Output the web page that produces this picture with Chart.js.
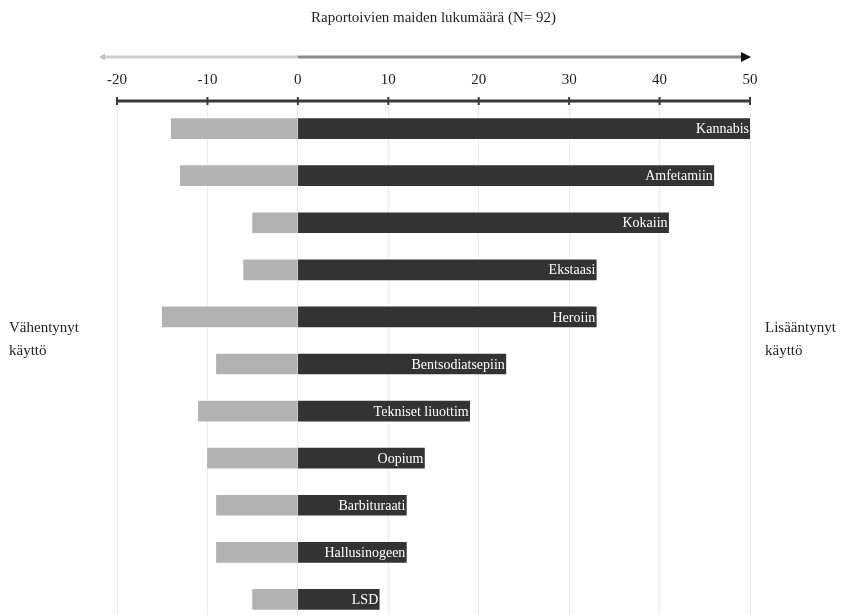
<!DOCTYPE html>
<html lang="fi">
<head>
<meta charset="utf-8">
<title>Raportoivien maiden lukumäärä</title>
<script src="https://cdn.jsdelivr.net/npm/chart.js@4/dist/chart.umd.min.js"></script>
<style>
  html, body { margin: 0; padding: 0; background: #ffffff; overflow: hidden; }
  #wrap { width: 859px; height: 640px; }
</style>
</head>
<body>
<div id="wrap"><canvas id="chart" width="859" height="640"></canvas></div>
<script>
// Huumeet (tekstit sellaisina kuin ne pylväissä näkyvät)
const categories = ['Kannabis', 'Amfetamiin', 'Kokaiin', 'Ekstaasi', 'Heroiin',
  'Bentsodiatsepiin', 'Tekniset liuottim', 'Oopium', 'Barbituraati', 'Hallusinogeen', 'LSD'];

// Maiden lukumäärä: käyttö lisääntynyt / vähentynyt
const increased = [50, 46, 41, 33, 33, 23, 19, 14, 12, 12, 9];
const decreased = [-14, -13, -5, -6, -15, -9, -11, -10, -9, -9, -5];

// Vaaka-akselin asteikko
const axisMin = -20;
const axisMax = 50;
const axisStep = 10;

const titleText = 'Raportoivien maiden lukumäärä (N= 92)';
const leftNote = ['Vähentynyt', 'käyttö'];
const rightNote = ['Lisääntynyt', 'käyttö'];

const serif = '"Liberation Serif", "DejaVu Serif", serif';

// Nuoli akselin yläpuolella, akseliviiva väkäsineen, sivutekstit ja pylväiden nimet
const decorations = {
  id: 'decorations',
  beforeDatasetsDraw(chart) {
    const { ctx, chartArea, scales } = chart;
    const x = scales.x;
    const yArrow = 57;
    const yAxis = chartArea.top - 4;
    const x0 = x.getPixelForValue(0);
    const xMin = x.getPixelForValue(axisMin);
    const xMax = x.getPixelForValue(axisMax);
    ctx.save();
    // nuoliviiva
    ctx.lineWidth = 3;
    ctx.strokeStyle = '#cfcfcf';
    ctx.beginPath(); ctx.moveTo(xMin - 14, yArrow); ctx.lineTo(x0, yArrow); ctx.stroke();
    ctx.strokeStyle = '#8c8c8c';
    ctx.beginPath(); ctx.moveTo(x0, yArrow); ctx.lineTo(xMax - 6, yArrow); ctx.stroke();
    ctx.fillStyle = '#111';
    ctx.beginPath();
    ctx.moveTo(xMax + 1, yArrow); ctx.lineTo(xMax - 9, yArrow - 5); ctx.lineTo(xMax - 9, yArrow + 5);
    ctx.closePath(); ctx.fill();
    ctx.fillStyle = '#c4c4c4';
    ctx.beginPath();
    ctx.moveTo(xMin - 18, yArrow); ctx.lineTo(xMin - 12, yArrow - 3.5); ctx.lineTo(xMin - 12, yArrow + 3.5);
    ctx.closePath(); ctx.fill();
    // akseliviiva
    ctx.strokeStyle = '#3a3a3a';
    ctx.lineWidth = 3;
    ctx.beginPath(); ctx.moveTo(xMin, yAxis); ctx.lineTo(xMax, yAxis); ctx.stroke();
    ctx.lineWidth = 2;
    for (let v = axisMin; v <= axisMax; v += axisStep) {
      const px = x.getPixelForValue(v);
      ctx.beginPath(); ctx.moveTo(px, yAxis - 4); ctx.lineTo(px, yAxis + 4); ctx.stroke();
    }
    // sivutekstit
    ctx.fillStyle = '#222';
    ctx.font = '15px ' + serif;
    ctx.textAlign = 'left';
    ctx.textBaseline = 'middle';
    leftNote.forEach((t, i) => ctx.fillText(t, 9, 328 + i * 23));
    rightNote.forEach((t, i) => ctx.fillText(t, 765, 328 + i * 23));
    ctx.restore();
  },
  afterDatasetsDraw(chart) {
    const { ctx } = chart;
    const meta = chart.getDatasetMeta(1);
    ctx.save();
    ctx.fillStyle = '#ffffff';
    ctx.font = '14px ' + serif;
    ctx.textAlign = 'right';
    ctx.textBaseline = 'middle';
    meta.data.forEach((bar, i) => {
      ctx.fillText(categories[i], bar.x - 1, bar.y + 1);
    });
    ctx.restore();
  }
};

new Chart(document.getElementById('chart'), {
  type: 'bar',
  data: {
    labels: categories,
    datasets: [
      {
        label: 'Vähentynyt käyttö',
        data: decreased,
        backgroundColor: '#b2b2b2',
        barThickness: 20,
        stack: 'maat'
      },
      {
        label: 'Lisääntynyt käyttö',
        data: increased,
        backgroundColor: '#333333',
        barThickness: 20,
        stack: 'maat'
      }
    ]
  },
  options: {
    indexAxis: 'y',
    responsive: false,
    animation: false,
    layout: { padding: { left: 117, right: 109, top: 0, bottom: 17 } },
    plugins: {
      legend: { display: false },
      tooltip: { enabled: false },
      title: {
        display: true,
        text: titleText,
        color: '#222',
        font: { family: serif, size: 15, weight: 'normal' },
        padding: { top: 9, bottom: 28 }
      }
    },
    scales: {
      x: {
        position: 'top',
        stacked: true,
        min: axisMin,
        max: axisMax,
        ticks: {
          stepSize: axisStep,
          color: '#222',
          font: { family: serif, size: 15 },
          padding: 16
        },
        grid: { color: '#ececec', drawTicks: false },
        border: { display: false }
      },
      y: {
        stacked: true,
        display: false
      }
    }
  },
  plugins: [decorations]
});
</script>
</body>
</html>
